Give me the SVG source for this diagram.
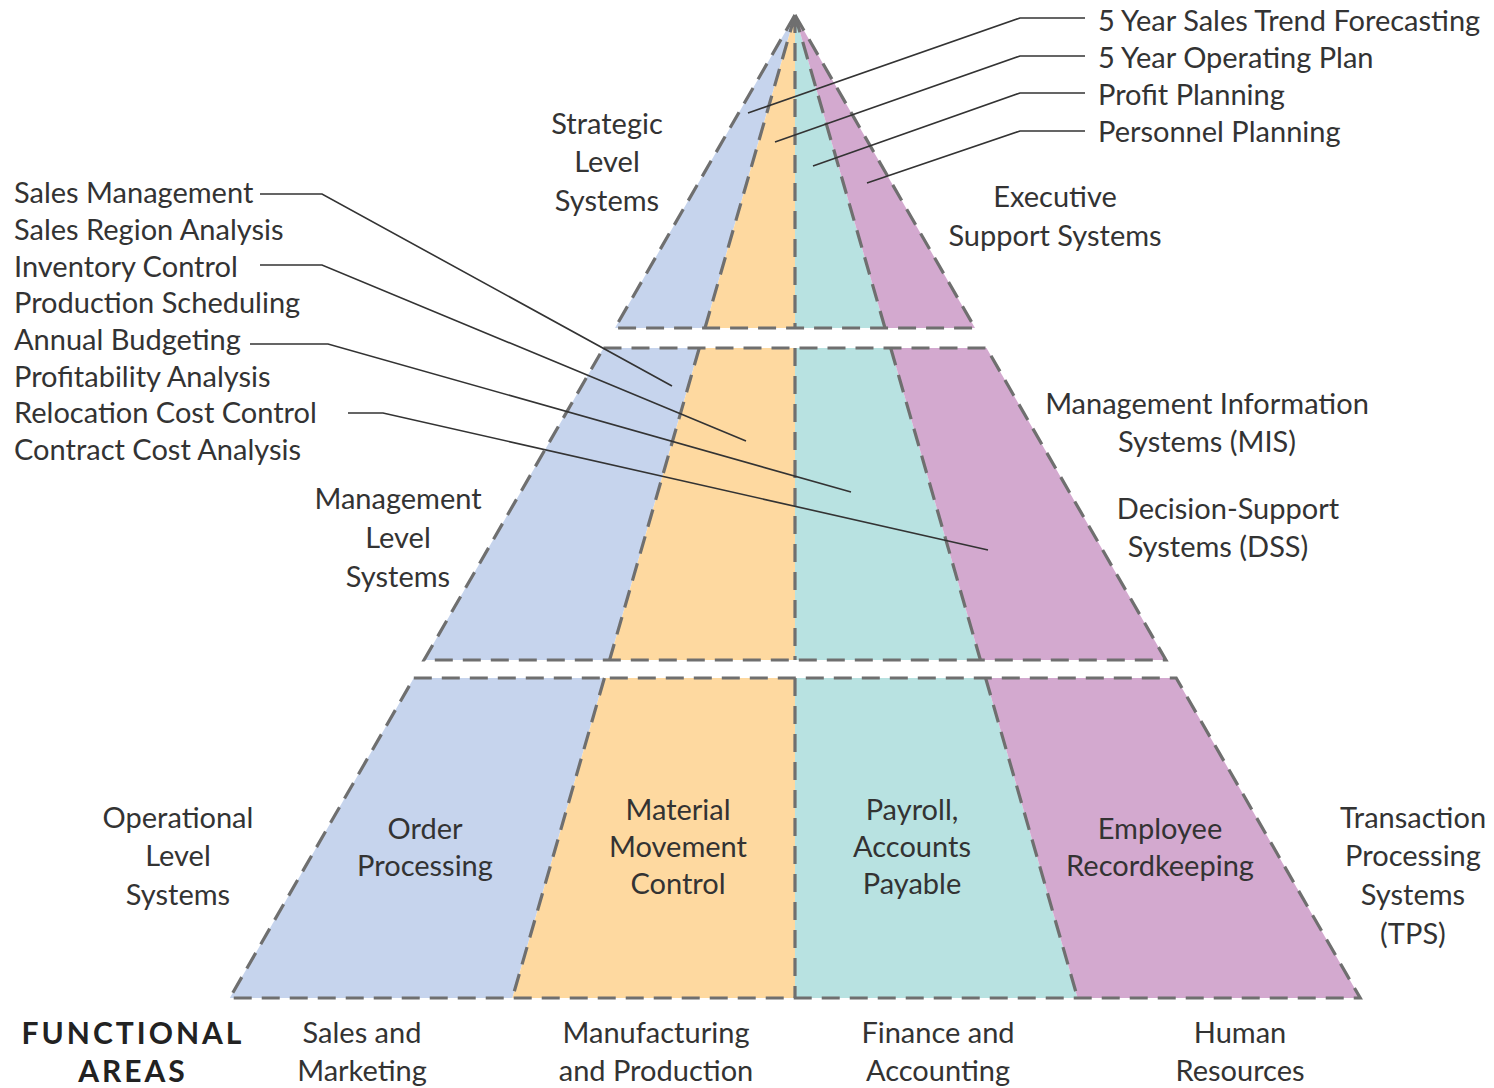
<svg xmlns="http://www.w3.org/2000/svg" width="1494" height="1088" viewBox="0 0 1494 1088">
<style>
.b{fill:#c6d4ed}.o{fill:#fed9a0}.t{fill:#b8e2e1}.p{fill:#d3a9cf}
.d{fill:none;stroke:#6f6f6f;stroke-width:3.2;stroke-dasharray:18 10;stroke-linejoin:miter}
.c{fill:none;stroke:#333;stroke-width:1.6}
text{font-family:Lato,"Open Sans","Liberation Sans",sans-serif;font-size:29px;fill:#333}
.m{text-anchor:middle}
.f{font-weight:bold;font-size:30px;letter-spacing:3px;fill:#222}
</style>
<rect width="1494" height="1088" fill="#fff"/>
<g id="tier-strategic">
<polygon class="b" points="795,15 615,328 705,328"/>
<polygon class="o" points="795,15 705,328 795,328"/>
<polygon class="t" points="795,15 795,328 885,328"/>
<polygon class="p" points="795,15 885,328 975,328"/>
<polygon class="d" points="795,15 975,328 615,328"/>
<path class="d" d="M795,15 L705,328 M795,15 L795,328 M795,15 L885,328"/>
</g>
<g id="tier-management">
<polygon class="b" points="603.5,348 699.3,348 609.6,660 424.1,660"/>
<polygon class="o" points="699.3,348 795,348 795,660 609.6,660"/>
<polygon class="t" points="795,348 890.7,348 980.4,660 795,660"/>
<polygon class="p" points="890.7,348 986.5,348 1165.9,660 980.4,660"/>
<polygon class="d" points="603.5,348 986.5,348 1165.9,660 424.1,660"/>
<path class="d" d="M699.3,348 L609.6,660 M795,348 L795,660 M890.7,348 L980.4,660"/>
</g>
<g id="tier-operational">
<polygon class="b" points="413.8,678 604.4,678 512.4,998 229.8,998"/>
<polygon class="o" points="604.4,678 795,678 795,998 512.4,998"/>
<polygon class="t" points="795,678 985.6,678 1077.6,998 795,998"/>
<polygon class="p" points="985.6,678 1176.2,678 1360.2,998 1077.6,998"/>
<polygon class="d" points="413.8,678 1176.2,678 1360.2,998 229.8,998"/>
<path class="d" d="M604.4,678 L512.4,998 M795,678 L795,998 M985.6,678 L1077.6,998"/>
</g>
<g id="connectors">
<polyline class="c" points="1085,18 1020,18 748,113"/>
<polyline class="c" points="1085,56 1020,56 775,142"/>
<polyline class="c" points="1085,93 1020,93 813,166"/>
<polyline class="c" points="1085,131 1020,131 867,183"/>
<polyline class="c" points="260,194 322,194 672,386"/>
<polyline class="c" points="260,265 322,265 746,441"/>
<polyline class="c" points="250,344 328,344 851,492"/>
<polyline class="c" points="348,413 383,413 988,550"/>
</g>
<g id="right-list">
<text x="1098" y="31">5 Year Sales Trend Forecasting</text>
<text x="1098" y="68">5 Year Operating Plan</text>
<text x="1098" y="105">Profit Planning</text>
<text x="1098" y="142">Personnel Planning</text>
</g>
<g id="left-list">
<text x="14" y="203">Sales Management</text>
<text x="14" y="240">Sales Region Analysis</text>
<text x="14" y="277">Inventory Control</text>
<text x="14" y="313">Production Scheduling</text>
<text x="14" y="350">Annual Budgeting</text>
<text x="14" y="387">Profitability Analysis</text>
<text x="14" y="423">Relocation Cost Control</text>
<text x="14" y="460">Contract Cost Analysis</text>
</g>
<g id="label-strategic">
<text class="m" x="607" y="134">Strategic</text>
<text class="m" x="607" y="172">Level</text>
<text class="m" x="607" y="211">Systems</text>
</g>
<g id="label-ess">
<text class="m" x="1055" y="207">Executive</text>
<text class="m" x="1055" y="246">Support Systems</text>
</g>
<g id="label-mis">
<text class="m" x="1207" y="414">Management Information</text>
<text class="m" x="1207" y="452">Systems (MIS)</text>
</g>
<g id="label-dss">
<text class="m" x="1228" y="519">Decision-Support</text>
<text class="m" x="1218" y="557">Systems (DSS)</text>
</g>
<g id="label-management">
<text class="m" x="398" y="509">Management</text>
<text class="m" x="398" y="548">Level</text>
<text class="m" x="398" y="587">Systems</text>
</g>
<g id="label-operational">
<text class="m" x="178" y="828">Operational</text>
<text class="m" x="178" y="866">Level</text>
<text class="m" x="178" y="905">Systems</text>
</g>
<g id="label-order">
<text class="m" x="425" y="839">Order</text>
<text class="m" x="425" y="876">Processing</text>
</g>
<g id="label-material">
<text class="m" x="678" y="820">Material</text>
<text class="m" x="678" y="857">Movement</text>
<text class="m" x="678" y="894">Control</text>
</g>
<g id="label-payroll">
<text class="m" x="912" y="820">Payroll,</text>
<text class="m" x="912" y="857">Accounts</text>
<text class="m" x="912" y="894">Payable</text>
</g>
<g id="label-employee">
<text class="m" x="1160" y="839">Employee</text>
<text class="m" x="1160" y="876">Recordkeeping</text>
</g>
<g id="label-tps">
<text class="m" x="1413" y="828">Transaction</text>
<text class="m" x="1413" y="866">Processing</text>
<text class="m" x="1413" y="905">Systems</text>
<text class="m" x="1413" y="944">(TPS)</text>
</g>
<g id="functional-areas">
<text class="m f" x="133" y="1044">FUNCTIONAL</text>
<text class="m f" x="133" y="1082">AREAS</text>
<text class="m" x="362" y="1043">Sales and</text>
<text class="m" x="362" y="1081">Marketing</text>
<text class="m" x="656" y="1043">Manufacturing</text>
<text class="m" x="656" y="1081">and Production</text>
<text class="m" x="938" y="1043">Finance and</text>
<text class="m" x="938" y="1081">Accounting</text>
<text class="m" x="1240" y="1043">Human</text>
<text class="m" x="1240" y="1081">Resources</text>
</g>
</svg>
